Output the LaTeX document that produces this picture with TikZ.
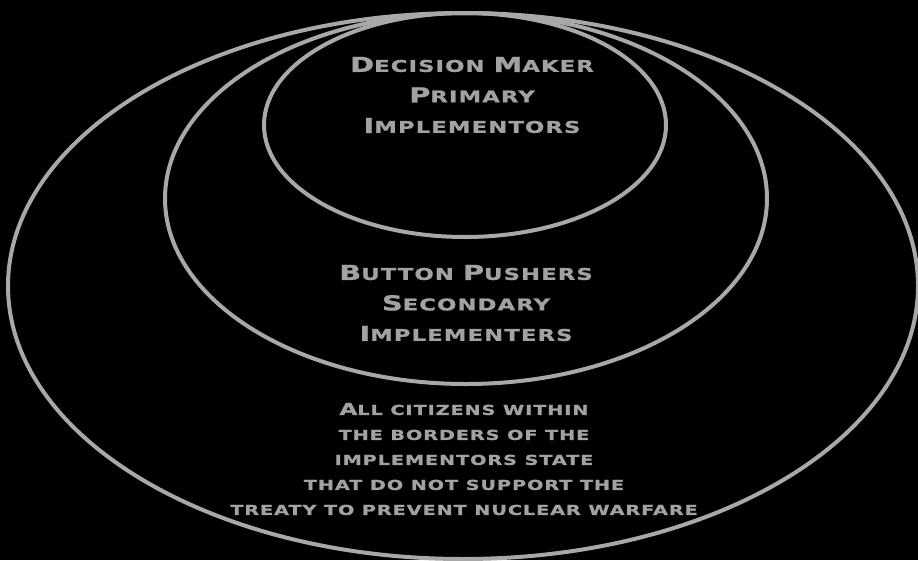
\documentclass[tikz,border=0pt]{standalone}
\usepackage{fontspec}
\usetikzlibrary{shapes}
\usetikzlibrary{positioning}
\newfontfamily\plaque[FakeStretch=1.4,LetterSpace=7,FakeBold=1.2]{DejaVu Sans Bold}
\definecolor{silver}{HTML}{A8A8A8}
\definecolor{silvertext}{HTML}{A2A2A2}
\newcommand\Grand[1]{{\fontsize{20.6}{20.6}\selectfont #1}}
\newcommand\Moyen[1]{{\fontsize{16.5}{16.5}\selectfont #1}}

\begin{document}
\begin{tikzpicture}[x=1pt,y=-1pt]
\tikzstyle{ring}=[ellipse,draw=silver,line width=4pt,inner sep=0pt]
\tikzstyle{titre}=[text=silvertext,align=center,font=\plaque\fontsize{16.2}{30.5}\selectfont]
\tikzstyle{peuple}=[text=silvertext,align=center,font=\plaque\fontsize{13.7}{25}\selectfont]
%fond
\fill[black] (0,0) rectangle (918,560);
\useasboundingbox (0,0) rectangle (918,560);
%placementdesellipses
\node[ring,minimum width=910pt,minimum height=546pt] (citizens) at (463,286) {};
\node[ring,minimum width=602pt,minimum height=371pt] (pushers) at (466,198.5) {};
\node[ring,minimum width=402pt,minimum height=224pt] (maker) at (465,125) {};
%placementdestextes
\node[titre] (makertext) at (472,95) {\Grand{D}ECISION \Grand{M}AKER\\\Grand{P}RIMARY\\\Grand{I}MPLEMENTORS};
\node[titre] (pushertext) at (466,303) {\Grand{B}UTTON \Grand{P}USHERS\\\Grand{S}ECONDARY\\\Grand{I}MPLEMENTERS};
\node[peuple] (citizentext) at (464,459) {\Moyen{A}LL CITIZENS WITHIN\\THE BORDERS OF THE\\IMPLEMENTORS STATE\\THAT DO NOT SUPPORT THE\\TREATY TO PREVENT NUCLEAR WARFARE};
\end{tikzpicture}
\end{document}
